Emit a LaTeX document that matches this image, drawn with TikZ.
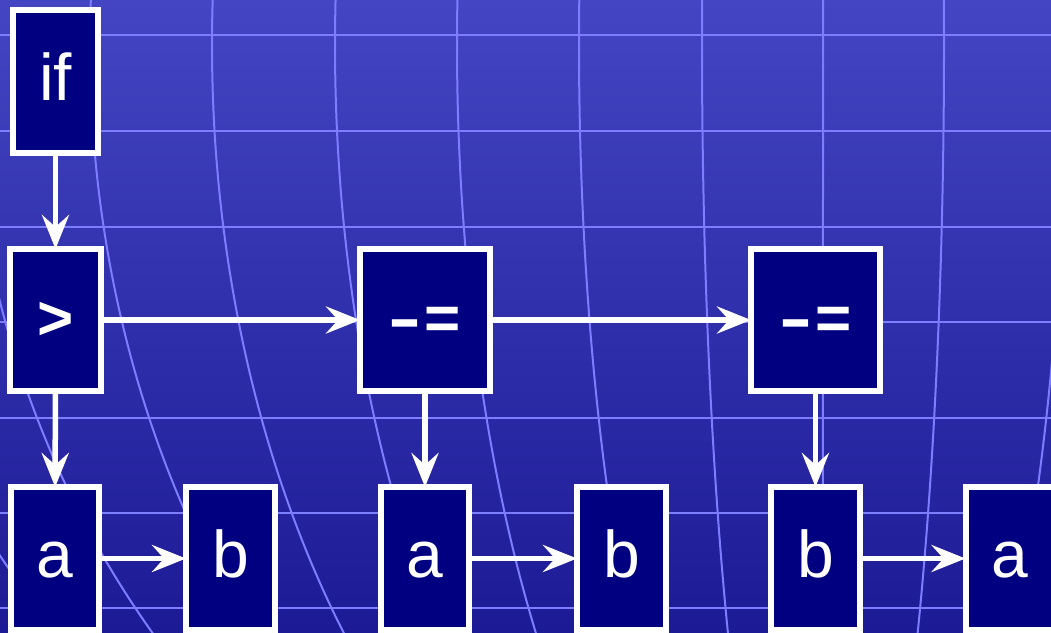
\documentclass[tikz,border=0pt]{standalone}
\usepackage{fontspec}
\setmainfont{Liberation Sans}
\usepackage{graphicx}
\usetikzlibrary{arrows.meta}
\definecolor{bgtop}{RGB}{67,69,194}
\definecolor{bgbot}{RGB}{29,26,149}
\definecolor{gridc}{RGB}{125,125,255}
\definecolor{boxc}{RGB}{0,0,128}
\begin{document}
\begin{tikzpicture}[x=1pt,y=-1pt,
  box/.style={draw=white, fill=boxc, line width=6pt, inner sep=0pt, outer sep=0pt,
    text=white, font=\fontsize{66}{70}\selectfont, text height=38pt, text depth=0pt,
    minimum height=143pt},
  opbox/.style={box, font=\fontsize{62}{70}\selectfont\bfseries},
  gridline/.style={draw=gridc, line width=2pt},
  conn/.style={draw=white, line width=5.5pt, -{Stealth[length=34pt,width=27pt,inset=12pt]}}
]
\useasboundingbox (0,0) rectangle (1051,632);
\shade[top color=bgtop, bottom color=bgbot] (0,0) rectangle (1051,632);
\begin{scope}
\clip (0,0) rectangle (1051,632);
\foreach \yy in {35,131,227,322,418,513,608}
  \draw[gridline] (0,\yy) -- (1051,\yy);
\foreach \xa in {-154,-32,90,212,335,457,579,702,823,944,1066}
  \draw[gridline] plot[domain=-5:640, samples=50, variable=\t, smooth]
    ({822+(\xa-822)*sqrt(1-((\t-45)/947)^2)}, \t);
\end{scope}

\node[box, minimum width=85pt] (if) at (55.5,81.5) {if};
\node[opbox, minimum width=91pt, minimum height=142pt] (gt) at (55.5,320) {>};
\node[opbox, minimum width=130pt, minimum height=142pt] (me1) at (425,320) {\scalebox{1.6}[1]{-}\kern3pt=};
\node[opbox, minimum width=129pt, minimum height=142pt] (me2) at (815.5,320) {\scalebox{1.6}[1]{-}\kern3pt=};
\node[box, minimum width=88pt] (a1) at (55,558.5) {a};
\node[box, minimum width=89pt] (b1) at (230.5,558.5) {b};
\node[box, minimum width=88pt] (a2) at (425,558.5) {a};
\node[box, minimum width=89pt] (b2) at (621.5,558.5) {b};
\node[box, minimum width=89pt] (b3) at (815.5,558.5) {b};
\node[box, minimum width=89pt] (a3) at (1010,558.5) {a};

\draw[conn] (if) -- (gt);
\draw[conn] (gt) -- (me1);
\draw[conn] (me1) -- (me2);
\draw[conn] (gt) -- (a1);
\draw[conn] (me1) -- (a2);
\draw[conn] (me2) -- (b3);
\draw[conn] (a1) -- (b1);
\draw[conn] (a2) -- (b2);
\draw[conn] (b3) -- (a3);
\end{tikzpicture}
\end{document}
